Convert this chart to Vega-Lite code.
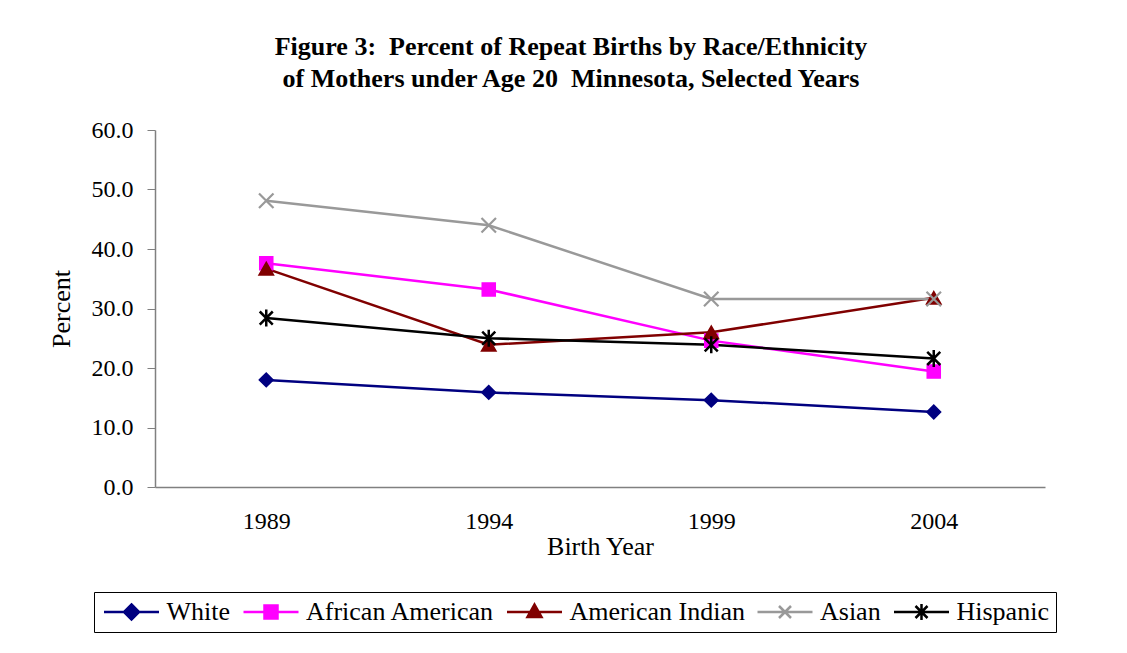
{
  "$schema": "https://vega.github.io/schema/vega-lite/v6.json",
  "width": 890,
  "height": 357,
  "autosize": {"type": "none"},
  "padding": {"left": 155, "top": 130, "right": 82, "bottom": 166},
  "background": "white",
  "title": {
    "text": ["Figure 3:\u00a0 Percent of Repeat Births by Race/Ethnicity", "of Mothers under Age 20\u00a0 Minnesota, Selected Years"],
    "font": "Liberation Serif",
    "fontSize": 26,
    "fontWeight": "bold",
    "color": "black",
    "anchor": "middle",
    "dx": -29,
    "lineHeight": 32,
    "offset": 26
  },
  "data": {
    "values": [
      {"year": "1989", "race": "White", "pct": 18.0},
      {"year": "1994", "race": "White", "pct": 15.9},
      {"year": "1999", "race": "White", "pct": 14.6},
      {"year": "2004", "race": "White", "pct": 12.6},
      {"year": "1989", "race": "African American", "pct": 37.6},
      {"year": "1994", "race": "African American", "pct": 33.2},
      {"year": "1999", "race": "African American", "pct": 24.6},
      {"year": "2004", "race": "African American", "pct": 19.4},
      {"year": "1989", "race": "American Indian", "pct": 36.7},
      {"year": "1994", "race": "American Indian", "pct": 23.9},
      {"year": "1999", "race": "American Indian", "pct": 26.0},
      {"year": "2004", "race": "American Indian", "pct": 31.8},
      {"year": "1989", "race": "Asian", "pct": 48.1},
      {"year": "1994", "race": "Asian", "pct": 44.0},
      {"year": "1999", "race": "Asian", "pct": 31.6},
      {"year": "2004", "race": "Asian", "pct": 31.6},
      {"year": "1989", "race": "Hispanic", "pct": 28.4},
      {"year": "1994", "race": "Hispanic", "pct": 25.0},
      {"year": "1999", "race": "Hispanic", "pct": 23.9},
      {"year": "2004", "race": "Hispanic", "pct": 21.6}
    ]
  },
  "encoding": {
    "x": {
      "field": "year",
      "type": "ordinal",
      "scale": {"type": "point", "padding": 0.5},
      "axis": {
        "title": "Birth Year",
        "labelAngle": 0,
        "ticks": false,
        "labelPadding": 22,
        "titlePadding": 0,
        "domainColor": "#808080",
        "domainWidth": 1.5
      }
    },
    "y": {
      "field": "pct",
      "type": "quantitative",
      "scale": {"domain": [0, 60], "nice": false, "zero": true},
      "axis": {
        "title": "Percent",
        "values": [0, 10, 20, 30, 40, 50, 60],
        "format": ".1f",
        "grid": false,
        "tickSize": 8,
        "tickColor": "#808080",
        "domainColor": "#808080",
        "domainWidth": 1.5,
        "labelPadding": 14,
        "titlePadding": 17
      }
    },
    "color": {
      "field": "race",
      "type": "nominal",
      "scale": {
        "domain": ["White", "African American", "American Indian", "Asian", "Hispanic"],
        "range": ["#000080", "#FF00FF", "#800000", "#999999", "#000000"]
      },
      "legend": {
        "title": null,
        "orient": "none",
        "legendX": -61,
        "legendY": 462,
        "direction": "horizontal",
        "columns": 5,
        "strokeColor": "black",
        "fillColor": "white",
        "padding": 7,
        "labelFont": "Liberation Serif",
        "labelFontSize": 26,
        "labelColor": "black",
        "labelLimit": 400,
        "symbolSize": 400,
        "symbolStrokeWidth": 2.5,
        "symbolOpacity": 1,
        "symbolOffset": 17.5,
        "labelOffset": 22,
        "columnPadding": 7.5,
        "encode": {
          "symbols": {
            "update": {
              "shape": {"signal": "datum.value === 'White' ? 'M-2.75,0H2.75M0,-0.75L0.75,0L0,0.75L-0.75,0Z' : datum.value === 'African American' ? 'M-2.75,0H2.75M-0.65,-0.65H0.65V0.65H-0.65Z' : datum.value === 'American Indian' ? 'M-2.75,0H2.75M0,-0.75L0.7,0.5H-0.7Z' : datum.value === 'Asian' ? 'M-2.75,0H2.75M-0.6,-0.6L0.6,0.6M-0.6,0.6L0.6,-0.6' : 'M-2.75,0H2.75M-0.6,-0.6L0.6,0.6M-0.6,0.6L0.6,-0.6M0,-0.8V0.8'"},
              "fill": {"scale": "color", "field": "value"},
              "stroke": {"scale": "color", "field": "value"},
              "strokeWidth": {"value": 2.5},
              "opacity": {"value": 1}
            }
          }
        }
      }
    }
  },
  "layer": [
    {
      "mark": {"type": "line", "strokeWidth": 2.5}
    },
    {
      "transform": [{"filter": "datum.race === 'White'"}],
      "mark": {"type": "point", "shape": "diamond", "filled": true, "size": 190, "stroke": "#000080", "strokeWidth": 1.5, "opacity": 1}
    },
    {
      "transform": [{"filter": "datum.race === 'African American'"}],
      "mark": {"type": "point", "shape": "square", "filled": true, "size": 170, "stroke": "#FF00FF", "strokeWidth": 1.5, "opacity": 1}
    },
    {
      "transform": [{"filter": "datum.race === 'American Indian'"}],
      "mark": {"type": "point", "shape": "triangle-up", "filled": true, "size": 210, "stroke": "#800000", "strokeWidth": 1.5, "opacity": 1}
    },
    {
      "transform": [{"filter": "datum.race === 'Asian'"}],
      "mark": {"type": "point", "shape": "M-1,-1L1,1M-1,1L1,-1", "filled": true, "size": 210, "stroke": "#999999", "strokeWidth": 2.2, "opacity": 1}
    },
    {
      "transform": [{"filter": "datum.race === 'Hispanic'"}],
      "mark": {"type": "point", "shape": "M-1,-1L1,1M-1,1L1,-1M0,-1.3V1.3", "filled": true, "size": 170, "stroke": "#000000", "strokeWidth": 2.5, "opacity": 1}
    }
  ],
  "config": {
    "font": "Liberation Serif",
    "view": {"stroke": null},
    "axis": {
      "labelFont": "Liberation Serif",
      "labelFontSize": 24,
      "labelColor": "black",
      "titleFont": "Liberation Serif",
      "titleFontSize": 26,
      "titleFontWeight": "normal",
      "titleColor": "black"
    }
  }
}
